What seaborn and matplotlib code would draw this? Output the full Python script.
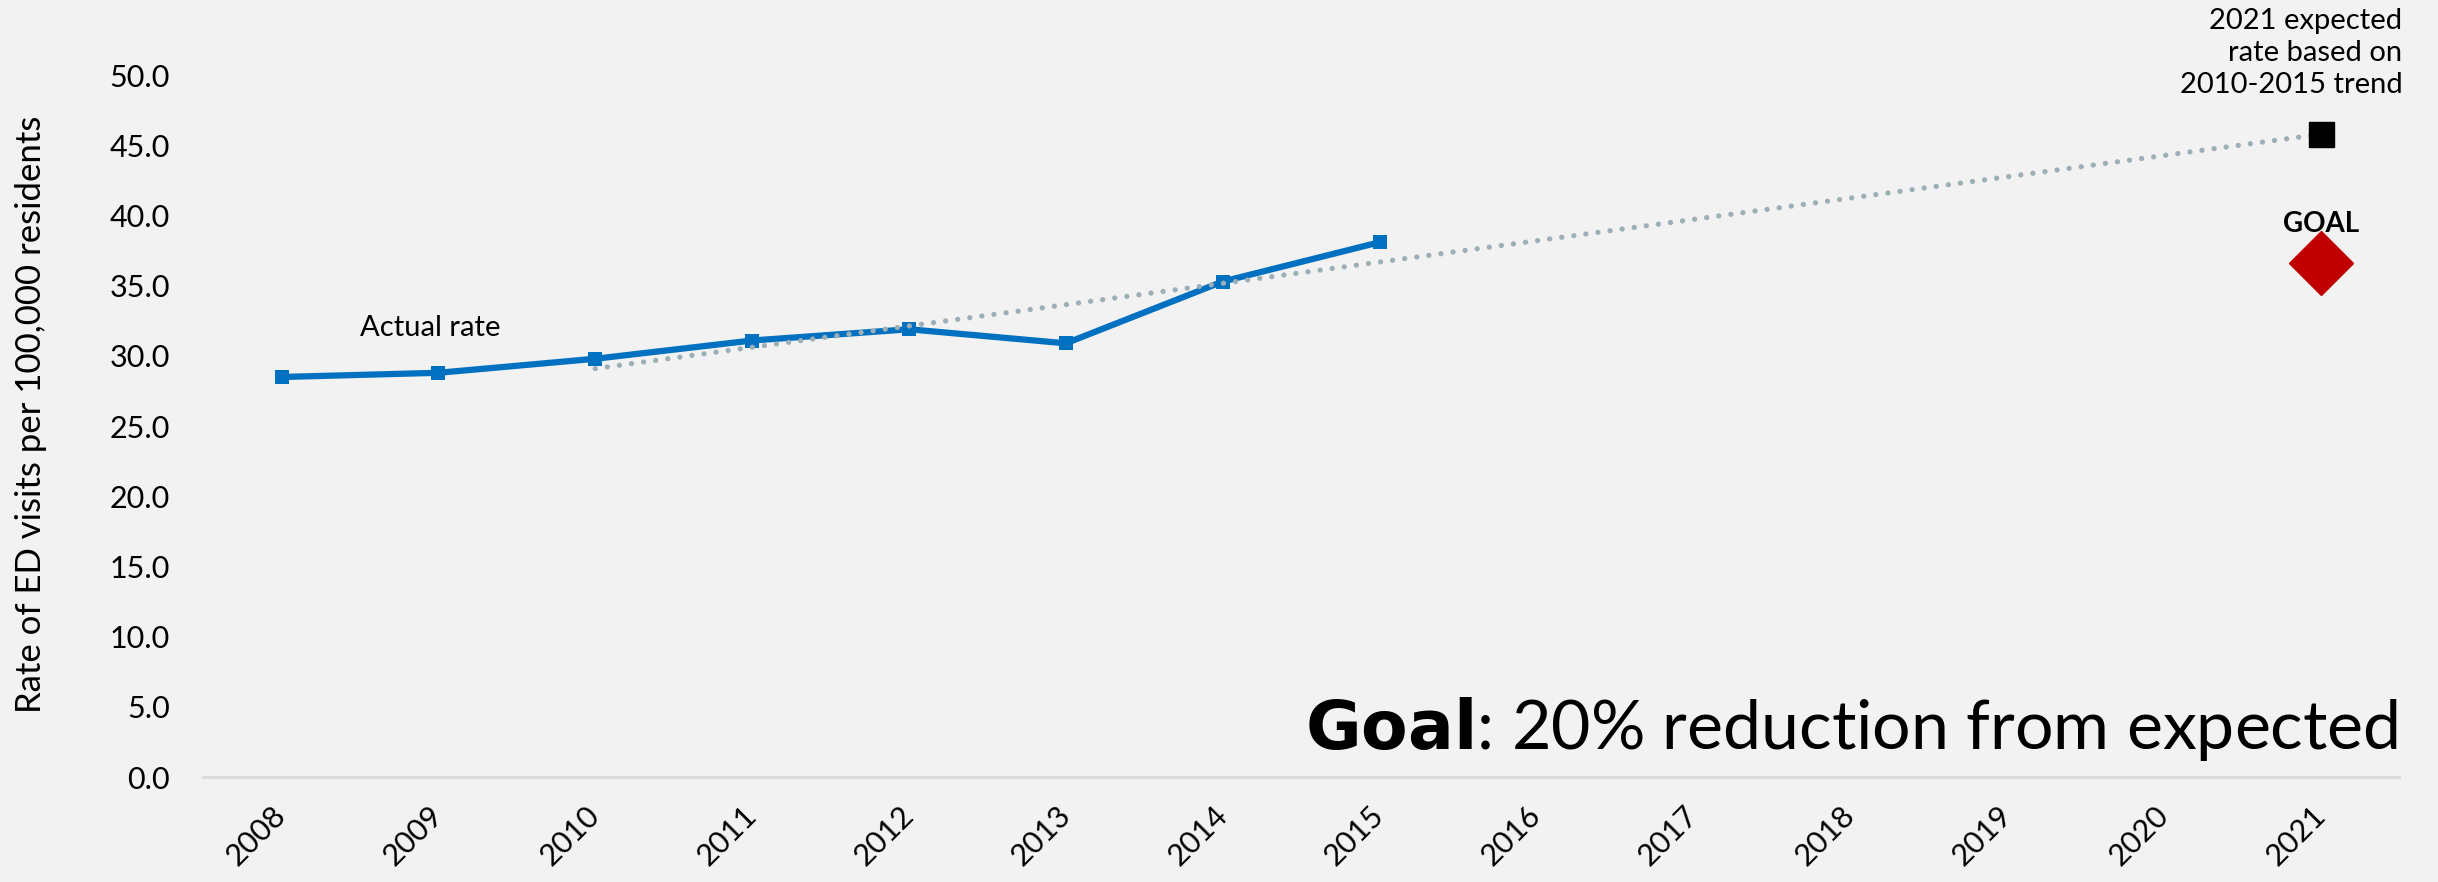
import matplotlib
matplotlib.use("Agg")
import matplotlib.pyplot as plt
import seaborn as sns
import pandas as pd

# ---- data ----
years = [2008, 2009, 2010, 2011, 2012, 2013, 2014, 2015]
actual_rate = [28.5, 28.8, 29.8, 31.1, 31.9, 30.9, 35.3, 38.1]
trend_years = [2010, 2021]
trend_values = [29.1, 45.8]
expected_year = [2021]
expected_value = [45.8]
goal_year = [2021]
goal_value = [36.6]
all_years = list(range(2008, 2022))
y_ticks = [0, 5, 10, 15, 20, 25, 30, 35, 40, 45, 50]

BG = "#F2F2F2"
sns.set_theme(style="white")
plt.rcParams["font.family"] = ["Lato", "DejaVu Sans"]
plt.rcParams["text.color"] = "black"
plt.rcParams["axes.labelcolor"] = "black"
plt.rcParams["xtick.color"] = "black"
plt.rcParams["ytick.color"] = "black"

fig = plt.figure(figsize=(24.38, 8.82), dpi=100, facecolor=BG)
ax = fig.add_axes([0.0833, 0.119, 0.9008, 0.8753])
ax.set_facecolor(BG)

df_actual = pd.DataFrame({"year": years, "rate": actual_rate})
df_trend = pd.DataFrame({"year": trend_years, "rate": trend_values})

sns.lineplot(data=df_actual, x="year", y="rate", ax=ax, color="#0070C0",
             linewidth=4.5, marker="s", markersize=10, markeredgewidth=0,
             zorder=3)
sns.lineplot(data=df_trend, x="year", y="rate", ax=ax, color="#9DAFB6",
             linewidth=3.8, linestyle=(0, (0.01, 2.3)),
             dash_capstyle="round", zorder=4)
ax.plot(expected_year, expected_value, marker="s", markersize=18,
        color="black", linestyle="none", zorder=5)
ax.plot(goal_year, goal_value, marker="D", markersize=33,
        color="#C00000", linestyle="none", zorder=5)

ax.set_xlim(2007.5, 2021.5)
ax.set_ylim(0, 55)
ax.set_yticks(y_ticks)
ax.set_yticklabels([f"{v:.1f}" for v in y_ticks], fontsize=22)
ax.set_xticks(all_years)
ax.set_xticklabels([str(y) for y in all_years], fontsize=22, rotation=45,
                   ha="right", va="center", rotation_mode="anchor")
ax.tick_params(axis="y", length=0, pad=24)
ax.tick_params(axis="x", length=0, pad=24)

for s in ["top", "right", "left"]:
    ax.spines[s].set_visible(False)
ax.spines["bottom"].set_color("#D9D9D9")
ax.spines["bottom"].set_linewidth(2)

ax.set_xlabel("")
ax.set_ylabel("Rate of ED visits per 100,000 residents", fontsize=25)
ax.yaxis.set_label_coords(-0.071, 0.47)

ax.text(2008.95, 32.0, "Actual rate", fontsize=21, ha="center", va="center")
ax.text(2021.52, 54.8,
        "2021 expected\nrate based on\n2010-2015 trend",
        fontsize=21, ha="right", va="top", linespacing=1.3)
ax.text(2021, 39.4, "GOAL", fontsize=20, fontweight="bold",
        ha="center", va="center")
ax.text(2021.49, 2.0, r"$\bf{Goal}$: 20% reduction from expected",
        fontsize=49, ha="right", va="baseline")

fig.savefig("out.png", dpi=100, facecolor=BG)
